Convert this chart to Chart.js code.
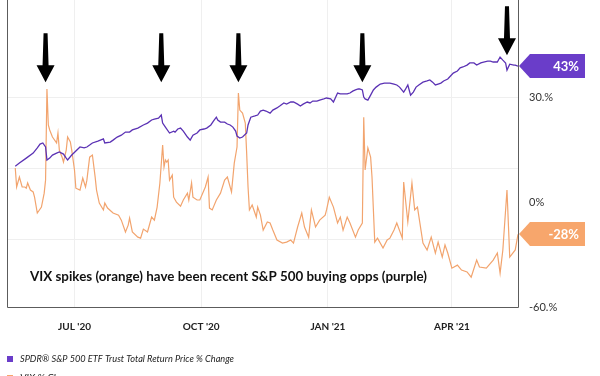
<!DOCTYPE html>
<html><head><meta charset="utf-8">
<script src="https://cdn.jsdelivr.net/npm/chart.js@4"></script>
<style>html,body{margin:0;padding:0;background:#fff}#wrap{width:600px;height:376px;position:relative;overflow:hidden}</style>
</head><body><div id="wrap"><canvas id="c" width="600" height="376"></canvas></div>
<script>
// days since 2020-05-19
const spyDays = [0,3,8,13,16,18,20,22,23,25,27,30,32,35,37,38,41,44,47,50,52,54,56,60,64,65,69,71,74,77,80,83,85,89,93,96,99,101,104,106,107,109,112,115,116,118,120,122,123,125,127,129,132,134,137,139,142,144,146,147,149,152,154,156,158,160,161,163,165,168,169,171,174,176,178,180,182,185,187,190,192,195,197,200,202,205,207,209,212,214,216,219,221,224,226,229,231,234,236,238,241,243,245,247,249,250,252,253,254,256,258,260,262,265,268,270,272,275,277,279,282,283,285,287,289,291,293,296,299,301,303,305,307,309,311,314,316,318,321,323,325,328,330,333,335,338,340,343,345,347,350,352,354,356,357,359,362,363,365];
const spyValues = [0.8,2.1,4.2,6.3,8.5,10.1,10.6,8.9,3.4,4.2,5.5,6.3,6.8,5.9,4.2,3.4,5.5,7.2,8.9,8.5,8.9,9.7,10.6,11.4,12.3,10.6,11.0,11.8,13.1,13.9,15.2,15.2,16.1,16.9,18.2,19.0,20.3,20.7,21.1,22.4,19.0,17.3,14.8,15.6,15.2,16.5,16.9,15.6,14.8,13.1,11.8,13.9,14.8,16.1,16.5,16.9,18.2,19.9,21.5,20.3,19.4,19.4,18.6,18.2,17.3,15.6,13.5,12.7,13.1,14.8,18.2,21.5,22.0,22.4,24.1,24.5,24.1,23.2,24.5,25.4,26.2,27.5,27.0,27.9,27.9,27.0,26.2,27.0,27.9,27.5,28.3,28.3,28.7,29.2,29.6,29.2,27.9,31.7,31.3,31.3,31.3,31.7,32.5,33.0,33.4,33.4,33.0,30.0,29.2,28.7,30.8,33.0,34.2,35.5,35.9,35.9,35.9,35.5,35.1,34.2,32.1,33.0,35.1,30.8,32.1,34.2,35.1,36.3,36.8,37.2,36.3,35.1,35.5,35.9,36.8,37.6,38.9,40.1,41.0,42.3,42.7,43.5,44.4,44.4,43.5,44.4,44.8,45.2,45.2,44.8,44.8,46.9,45.6,44.4,41.4,43.9,43.5,43.5,43];
const vixDays = [0,1,3,5,7,8,9,11,13,14,16,19,21,22,23,24,25,27,30,31,32,34,35,37,38,40,41,43,44,47,49,51,52,54,56,58,59,61,64,65,67,71,75,77,80,82,83,85,89,91,93,96,99,101,103,105,107,108,109,110,111,112,114,115,117,120,122,125,126,128,129,132,134,138,140,141,143,146,149,152,154,157,159,161,162,163,165,167,168,169,170,172,175,176,178,180,183,185,187,190,194,197,200,202,205,208,210,213,215,218,221,225,226,228,231,234,236,238,241,243,247,249,252,253,254,256,258,259,261,263,267,270,272,275,277,281,282,285,288,290,292,296,299,302,305,307,310,312,314,317,321,324,328,331,335,337,342,347,350,352,354,357,359,363,365];
const vixValues = [0,-8.0,-3.8,-8.0,-8.0,-8.5,-6.3,-9.3,-10.1,-12.3,-19.0,-16.5,-10.6,-5.1,33.4,18.2,16.1,13.1,10.6,14.8,7.6,4.6,2.5,7.6,13.1,11.0,7.6,-0.8,-8.5,-9.3,-4.2,-8.0,-5.1,4.6,5.5,-3.8,-9.3,-14.8,-17.7,-14.8,-16.9,-19.0,-19.9,-22.0,-27.0,-24.1,-21.1,-27.0,-29.2,-29.6,-25.8,-27.0,-20.7,-22.0,-16.5,-6.3,9.7,0.4,3.4,2.5,3.4,-5.1,-3.0,-12.3,-14.4,-16.1,-13.5,-10.6,-13.5,-6.3,-12.3,-13.5,-13.5,-8.0,-3.8,-16.9,-17.7,-13.5,-10.6,-5.1,-3.8,-10.1,2.1,8.9,31.7,24.5,23.2,19.0,6.3,-8.0,-17.7,-15.6,-20.7,-16.5,-19.9,-26.2,-22.8,-23.2,-26.2,-30.4,-31.7,-31.3,-30.4,-31.7,-24.9,-19.0,-24.9,-29.2,-17.7,-24.9,-22.0,-19.9,-17.7,-12.3,-16.5,-23.2,-20.7,-26.2,-20.7,-23.2,-29.2,-26.2,-23.2,21.5,-0.8,8.5,4.6,-3.8,-31.3,-29.6,-33.8,-30.4,-29.6,-26.2,-23.2,-29.6,-5.9,-22.8,-6.3,-17.7,-16.5,-31.7,-34.6,-29.2,-35.9,-31.3,-37.6,-32.5,-35.9,-42.3,-41.0,-43.1,-43.9,-46.1,-38.9,-41.8,-42.3,-38.9,-35.9,-44.4,-34.6,-9.3,-37.6,-34.6,-28];
const xTickDays = [43,135,227,317];
const xTickLabels = ["JUL '20","OCT '20","JAN '21","APR '21"];
const yGridValues = [30,0,-30];
const yLabelValues = [30,-14.4,-58.7];
const yLabelTexts = ['30.%','0%','-60.%'];
const arrowDays = [22,106,162,252,357];
const arrowTipValues = [36.3,36.3,36.3,36.3,47.7];
const seriesNames = ['SPDR® S&P 500 ETF Trust Total Return Price % Change','VIX % Change'];
const seriesColors = ['#5b32b4','#f2a46e'];
const tagColors = ['#6a3dc9','#f7a66c'];
const noteText = 'VIX spikes (orange) have been recent S&P 500 buying opps (purple)';

const decor = {
  id:'decor',
  afterDatasetsDraw(chart){
    const {ctx, chartArea:a, scales:{x,y}} = chart;
    ctx.save();
    // frame
    ctx.strokeStyle='#5c5c5c'; ctx.lineWidth=1;
    ctx.beginPath();
    ctx.moveTo(a.left+0.5, a.top); ctx.lineTo(a.left+0.5, a.bottom+0.5);
    ctx.lineTo(a.right+0.5, a.bottom+0.5); ctx.lineTo(a.right+0.5, a.top);
    ctx.stroke();
    // arrows
    ctx.fillStyle='#000';
    arrowDays.forEach((d,i)=>{
      const cx = x.getPixelForValue(d), tip = y.getPixelForValue(arrowTipValues[i]);
      const top = tip-49, head = tip-17;
      ctx.beginPath();
      ctx.moveTo(cx-2,top); ctx.lineTo(cx+2,top); ctx.lineTo(cx+3,head); ctx.lineTo(cx+9,head);
      ctx.lineTo(cx,tip); ctx.lineTo(cx-9,head); ctx.lineTo(cx-3,head); ctx.closePath(); ctx.fill();
    });
    // note
    ctx.fillStyle='#111'; ctx.font='bold 14px Lato'; ctx.textBaseline='alphabetic'; ctx.textAlign='left';
    ctx.fillText(noteText, 30, 281, 397);
    ctx.restore();
  },
  afterDraw(chart){
    const {ctx, chartArea:a, scales:{y}} = chart;
    ctx.save();
    chart.data.datasets.forEach((ds,i)=>{
      const last = ds.data[ds.data.length-1].y;
      const py = Math.round(y.getPixelForValue(last));
      const x0 = a.right+1;
      ctx.fillStyle = tagColors[i];
      ctx.beginPath();
      ctx.moveTo(x0, py); ctx.lineTo(x0+11, py-12); ctx.lineTo(585, py-12); ctx.lineTo(585, py+12); ctx.lineTo(x0+11, py+12); ctx.closePath(); ctx.fill();
      ctx.fillStyle='#fff'; ctx.font='bold 13px Lato'; ctx.textAlign='right'; ctx.textBaseline='middle';
      ctx.fillText(Math.round(last)+'%', 579, py+1);
    });
    // legend
    ctx.textAlign='left'; ctx.textBaseline='middle';
    ctx.font='italic 10px Lato';
    const rows=[359,378];
    seriesNames.forEach((n,i)=>{
      ctx.fillStyle=tagColors[i];
      ctx.fillRect(7, rows[i]-3, 6, 6);
      ctx.fillStyle='#222';
      ctx.fillText(n, 20, rows[i], i===0?214:1000);
    });
    ctx.restore();
  }
};

new Chart(document.getElementById('c'), {
  type:'line',
  data:{datasets:[
    {label:seriesNames[0], data:spyDays.map((d,i)=>({x:d,y:spyValues[i]})), borderColor:seriesColors[0], borderWidth:1.3, pointRadius:0, tension:0, fill:false},
    {label:seriesNames[1], data:vixDays.map((d,i)=>({x:d,y:vixValues[i]})), borderColor:seriesColors[1], borderWidth:1.2, pointRadius:0, tension:0, fill:false}
  ]},
  options:{
    responsive:false, animation:false, devicePixelRatio:1,
    layout:{padding:{left:7,top:0,right:0,bottom:0}},
    plugins:{legend:{display:false}, tooltip:{enabled:false}},
    scales:{
      x:{type:'linear', min:-6, max:365,
        afterBuildTicks:s=>{ s.ticks = xTickDays.map(v=>({value:v})); },
        afterFit:s=>{ s.height=69; s.paddingLeft=0; s.paddingRight=0; },
        grid:{color:'#efefef', drawTicks:false},
        border:{display:false},
        ticks:{padding:14, color:'#222', maxRotation:0, autoSkip:false, font:{family:'Lato', size:10, weight:'bold'},
          callback:v=>{ const i=xTickDays.indexOf(v); return i>=0?xTickLabels[i]:''; }}
      },
      y:{position:'right', min:-58.7, max:71,
        afterBuildTicks:s=>{ const vals=[...yGridValues, ...yLabelValues].filter((v,i,arr)=>arr.indexOf(v)===i).sort((p,q)=>p-q); s.ticks = vals.map(v=>({value:v})); },
        afterFit:s=>{ s.width=82; s.paddingTop=0; s.paddingBottom=0; },
        grid:{drawTicks:false, color:c=> (c.tick && yGridValues.includes(c.tick.value)) ? '#efefef' : 'rgba(0,0,0,0)'},
        border:{display:false},
        ticks:{padding:11, color:'#333', autoSkip:false, font:{family:'Lato', size:11},
          callback:v=>{ const i=yLabelValues.indexOf(v); return i>=0?yLabelTexts[i]:''; }}
      }
    }
  },
  plugins:[decor]
});
</script></body></html>
